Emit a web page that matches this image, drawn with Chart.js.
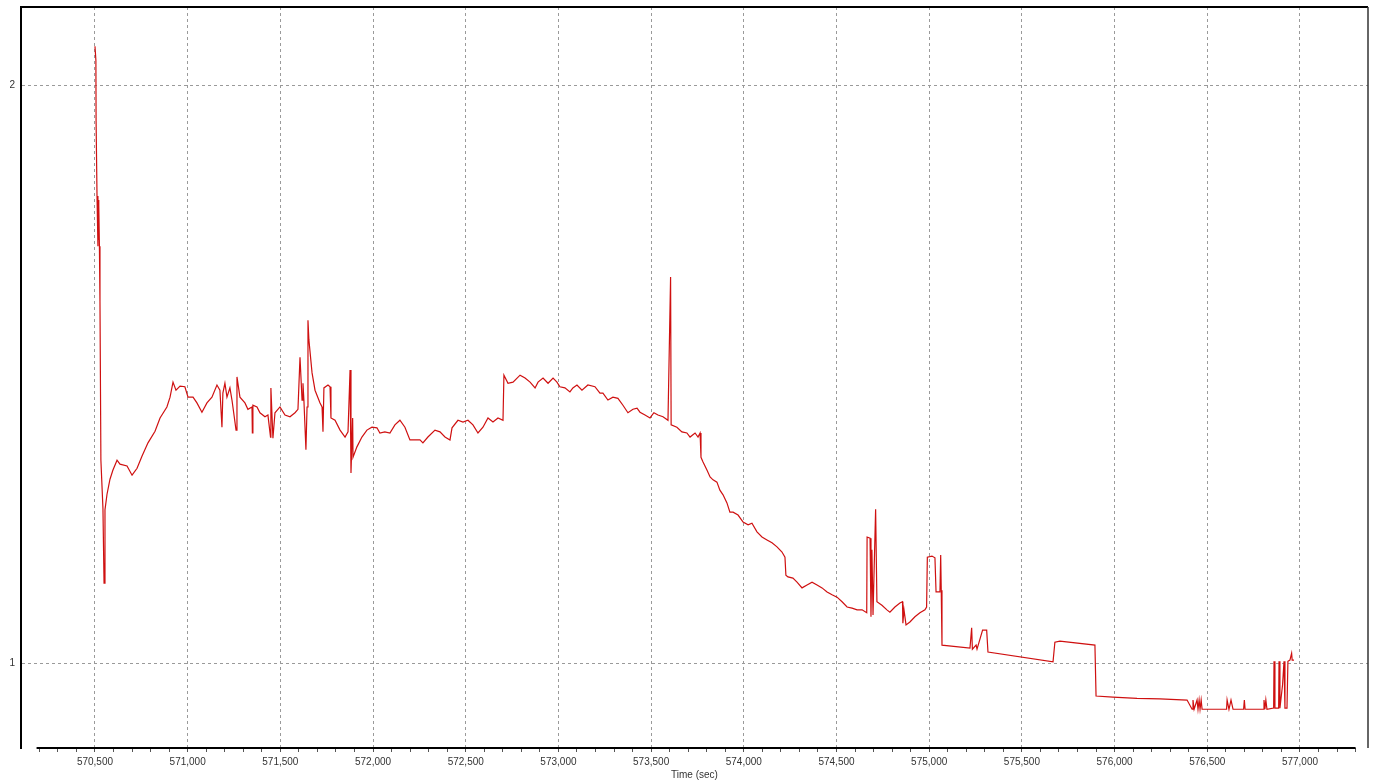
<!DOCTYPE html>
<html>
<head>
<meta charset="utf-8">
<script src="https://cdn.jsdelivr.net/npm/chart.js@4.4.1/dist/chart.umd.min.js"></script>
<style>
html,body{margin:0;padding:0;background:#fff;}
#wrap{width:1376px;height:783px;}
</style>
</head>
<body>
<div id="wrap"><canvas id="c" width="1376" height="783"></canvas></div>
<script>
// Time (sec)
const times = [
570500,570505,570506,570511,570516,570517,570520,570521,570524,570527,570532,570543,570549,570554,570565,570581,570597,570619,570635,570673,
570700,570727,570754,570786,570824,570851,570888,570905,570921,570937,570959,570985,571002,571029,571050,571077,571104,571131,571158,571174,
571185,571190,571201,571212,571228,571239,571261,571266,571282,571309,571325,571347,571349,571352,571374,571390,571417,571433,571447,571449,
571460,571471,571498,571525,571552,571579,571595,571606,571617,571622,571627,571638,571644,571649,571654,571671,571687,571714,571725,571730,
571735,571757,571768,571773,571795,571822,571849,571865,571876,571881,571890,571892,571913,571940,571967,571994,572021,572037,572064,572091,
572118,572145,572172,572199,572226,572253,572269,572296,572334,572361,572388,572415,572426,572458,572485,572512,572539,572566,572593,572620,
572647,572674,572701,572706,572728,572755,572793,572820,572847,572874,572890,572917,572944,572971,572992,573008,573035,573062,573078,573100,
573127,573159,573197,573224,573240,573267,573294,573321,573348,573375,573402,573424,573440,573467,573494,573515,573537,573564,573591,573605,
573608,573639,573666,573693,573710,573737,573753,573764,573769,573780,573801,573818,573834,573855,573871,573888,573909,573925,573942,573969,
573996,574023,574044,574071,574098,574125,574152,574179,574206,574222,574227,574238,574265,574287,574314,574341,574368,574395,574422,574449,
574476,574503,574530,574557,574584,574611,574638,574663,574665,574681,574686,574691,574697,574711,574718,574745,574772,574788,574815,574842,
574856,574858,574864,574875,574896,574923,574950,574977,574986,574990,575015,575031,575037,575058,575062,575065,575069,575220,575229,575233,
575253,575258,575288,575310,575317,575668,575678,575705,575894,575900,575991,576121,576245,576391,576418,576423,576429,576445,576450,576456,
576461,576467,576472,576604,576607,576617,576628,576639,576696,576700,576704,576801,576806,576811,576816,576822,576858,576860,576865,576885,
576887,576892,576906,576914,576919,576930,576935,576946,576955,576958,576968
];
// Measured value
const values = [
2.067,2.043,1.939,1.808,1.721,1.801,1.732,1.792,1.721,1.626,1.351,1.268,1.138,1.265,1.292,1.318,1.334,1.351,1.344,1.341,
1.325,1.337,1.358,1.381,1.401,1.424,1.443,1.460,1.486,1.472,1.479,1.478,1.460,1.460,1.450,1.434,1.450,1.460,1.481,1.472,
1.408,1.467,1.484,1.460,1.476,1.455,1.403,1.495,1.460,1.450,1.439,1.443,1.398,1.446,1.443,1.433,1.426,1.429,1.391,1.476,
1.389,1.433,1.443,1.429,1.426,1.433,1.439,1.529,1.455,1.484,1.455,1.369,1.443,1.593,1.559,1.502,1.472,1.450,1.443,1.400,
1.476,1.481,1.478,1.424,1.420,1.403,1.391,1.400,1.507,1.329,1.424,1.356,1.374,1.391,1.403,1.408,1.407,1.398,1.400,1.398,
1.412,1.420,1.408,1.386,1.386,1.386,1.381,1.391,1.403,1.400,1.391,1.386,1.407,1.420,1.417,1.420,1.412,1.398,1.408,1.424,
1.417,1.424,1.420,1.498,1.484,1.486,1.498,1.493,1.486,1.476,1.486,1.493,1.484,1.493,1.486,1.478,1.476,1.469,1.476,1.481,
1.472,1.481,1.478,1.467,1.467,1.455,1.460,1.458,1.446,1.433,1.439,1.441,1.434,1.429,1.424,1.433,1.429,1.426,1.420,1.668,
1.412,1.408,1.400,1.398,1.391,1.398,1.391,1.398,1.356,1.348,1.334,1.322,1.317,1.313,1.299,1.291,1.277,1.261,1.261,1.256,
1.244,1.239,1.242,1.227,1.218,1.213,1.208,1.201,1.192,1.183,1.152,1.149,1.147,1.140,1.130,1.135,1.140,1.135,1.130,1.123,
1.118,1.114,1.106,1.097,1.095,1.092,1.092,1.087,1.218,1.216,1.080,1.196,1.083,1.266,1.106,1.100,1.092,1.088,1.097,1.104,
1.106,1.069,1.092,1.066,1.071,1.080,1.087,1.092,1.097,1.183,1.185,1.182,1.123,1.123,1.187,1.126,1.031,1.026,1.061,1.024,
1.031,1.024,1.057,1.057,1.019,1.002,1.036,1.038,1.031,0.943,0.941,0.939,0.938,0.936,0.920,0.936,0.920,0.936,0.920,0.936,
0.920,0.936,0.920,0.920,0.936,0.920,0.936,0.920,0.920,0.936,0.920,0.920,0.936,0.920,0.936,0.920,0.922,1.003,0.922,0.922,
1.003,0.922,0.962,1.003,0.922,0.922,1.003,1.005,1.017,1.005,1.005
];
const yTickValues = [1, 2];
const xMajorStep = 500;
const xMinorStep = 100;
const xAxisTitle = 'Time (sec)';

const points = times.map((t, i) => ({ x: t, y: values[i] }));

const frame = {
  id: 'frame',
  afterDraw(chart) {
    const { ctx, chartArea: a, scales } = chart;
    ctx.save();
    ctx.strokeStyle = '#000';
    ctx.lineWidth = 2;
    ctx.beginPath();
    ctx.moveTo(a.left - 1, a.top);
    ctx.lineTo(a.right, a.top);
    ctx.stroke();
    ctx.strokeStyle = '#333';
    ctx.lineWidth = 1.5;
    ctx.beginPath();
    ctx.moveTo(a.right, a.top);
    ctx.lineTo(a.right, a.bottom);
    ctx.stroke();
    const x = scales.x;
    ctx.strokeStyle = '#000';
    ctx.lineWidth = 2;
    ctx.beginPath();
    ctx.moveTo(x.getPixelForValue(570185), a.bottom);
    ctx.lineTo(x.getPixelForValue(577300), a.bottom);
    ctx.stroke();
    ctx.restore();
  }
};

new Chart(document.getElementById('c'), {
  type: 'line',
  data: {
    datasets: [{
      data: points,
      borderColor: '#cf1010',
      borderWidth: 1.2,
      pointRadius: 0,
      tension: 0,
      fill: false
    }]
  },
  options: {
    responsive: false,
    animation: false,
    events: [],
    layout: { padding: { top: 7, right: 8, left: 0, bottom: 0 } },
    plugins: { legend: { display: false }, tooltip: { enabled: false } },
    scales: {
      x: {
        type: 'linear',
        min: 570101,
        max: 577367,
        afterFit(s) { s.height = 35; s.paddingLeft = 0; s.paddingRight = 0; },
        afterBuildTicks(s) {
          const t = [];
          for (let v = 570200; v <= 577300; v += xMinorStep) t.push({ value: v });
          s.ticks = t;
        },
        ticks: {
          autoSkip: false,
          maxRotation: 0,
          minRotation: 0,
          padding: 4,
          color: '#333',
          font: { family: '"Liberation Sans", Arial, sans-serif', size: 10 },
          callback(v) { return v % xMajorStep === 0 ? v.toLocaleString('en-US') : ''; }
        },
        grid: {
          drawOnChartArea: true,
          color(ctx) { return ctx.tick && ctx.tick.value % xMajorStep === 0 ? '#9a9a9a' : 'rgba(0,0,0,0)'; },
          tickColor: '#555',
          tickLength: 4,
          lineWidth: 1
        },
        border: { display: false, dash: [3, 3] },
        title: {
          display: true,
          text: xAxisTitle,
          color: '#333',
          font: { family: '"Liberation Sans", Arial, sans-serif', size: 10 },
          padding: { top: 0, bottom: 2 }
        }
      },
      y: {
        type: 'linear',
        min: 0.853,
        max: 2.135,
        afterFit(s) { s.width = 21; s.paddingTop = 0; s.paddingBottom = 0; },
        afterBuildTicks(s) { s.ticks = yTickValues.map(v => ({ value: v })); },
        ticks: {
          padding: 6,
          color: '#333',
          font: { family: '"Liberation Sans", Arial, sans-serif', size: 10 }
        },
        grid: {
          color: '#9a9a9a',
          drawTicks: false,
          lineWidth: 1
        },
        border: { display: true, color: '#000', width: 2, dash: [3, 3] }
      }
    }
  },
  plugins: [frame]
});
</script>
</body>
</html>
